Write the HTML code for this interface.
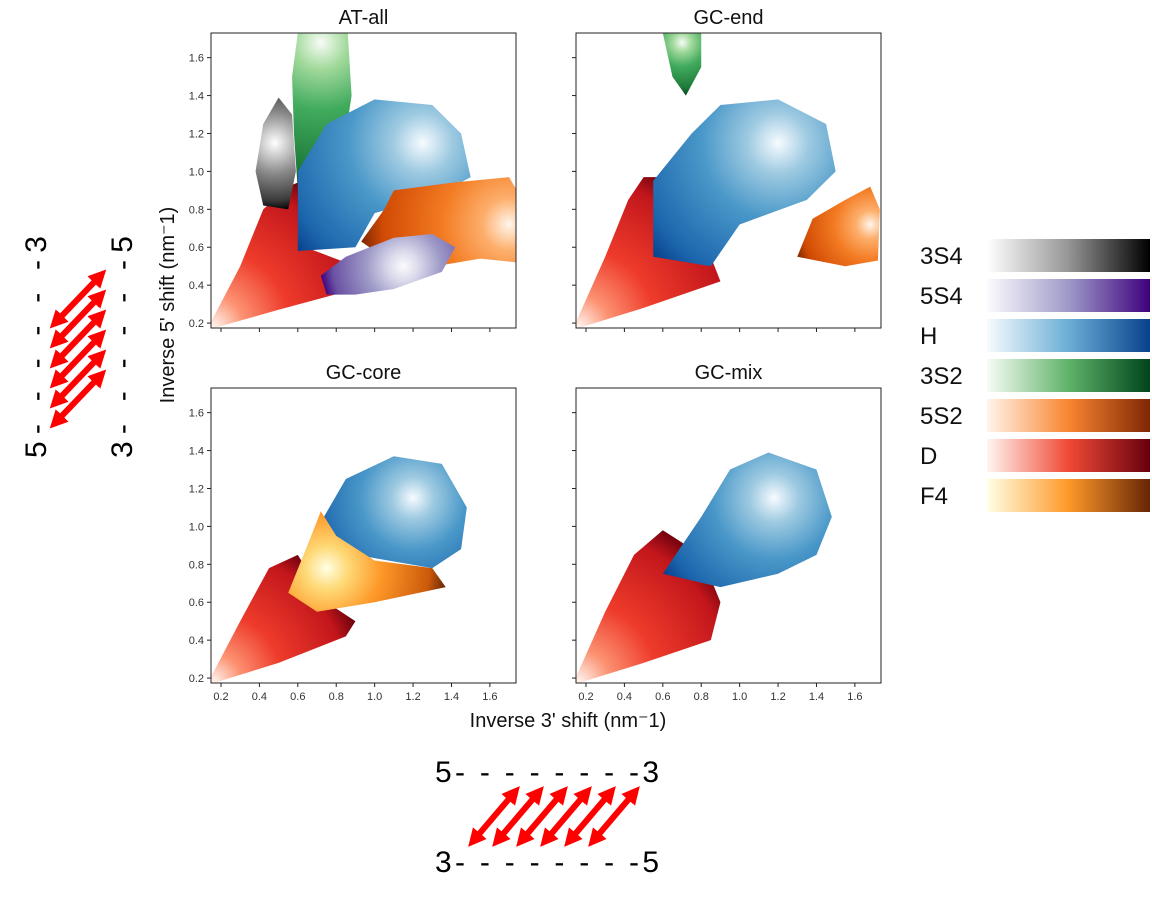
<!DOCTYPE html>
<html><head><meta charset="utf-8"><style>
body{margin:0;background:#fff;width:1152px;height:907px;overflow:hidden;font-family:"Liberation Sans",sans-serif}
svg{position:absolute;left:0;top:0}
</style></head><body>
<svg id="chart" width="1152" height="907"></svg>
<script>
const panelTitles=["AT-all","GC-end","GC-core","GC-mix"];
const xTicks=[0.2,0.4,0.6,0.8,1.0,1.2,1.4,1.6];
const yTicks=[0.2,0.4,0.6,0.8,1.0,1.2,1.4,1.6];
const legendLabels=["3S4","5S4","H","3S2","5S2","D","F4"];
const cmaps={
 "3S4":["#ffffff","#d0d0d0","#8a8a8a","#3a3a3a","#000000"],
 "5S4":["#fcfbfd","#dadaeb","#9e9ac8","#6a51a3","#3f007d"],
 "H":["#f7fbff","#9ecae1","#4a98c9","#1c65ad","#08418c"],
 "3S2":["#f7fcf5","#a1d99b","#41ab5d","#1e7a3a","#00441b"],
 "5S2":["#fff5eb","#fdae6b","#f37b22","#d04a04","#7f2704"],
 "D":["#fff5f0","#fc9272","#ee3b2b","#c2161b","#67000d"],
 "F4":["#ffffe5","#fed976","#fe9929","#cc5a0a","#662506"]};
const legendMaps={
 "3S4":["#ffffff","#969696","#000000"],
 "5S4":["#fcfbfd","#9e9ac8","#3f007d"],
 "H":["#f7fbff","#6baed6","#08418c"],
 "3S2":["#f7fcf5","#5fb36a","#00441b"],
 "5S2":["#fff5eb","#f98530","#7f2704"],
 "D":["#fff5f0","#f04a36","#67000d"],
 "F4":["#ffffe5","#fe9929","#662506"]};
// clusters: [panel, state, peak, outline points]
const clusters=[
 [0,"D",[0.16,0.18],[[0.15,0.17],[0.15,0.21],[0.3,0.5],[0.42,0.8],[0.55,0.92],[0.62,0.95],[0.64,0.6],[0.9,0.5],[0.9,0.38],[0.5,0.27]]],
 [0,"3S4",[0.48,1.15],[[0.42,0.82],[0.38,1.0],[0.42,1.25],[0.5,1.39],[0.57,1.3],[0.59,1.0],[0.55,0.8]]],
 [0,"3S2",[0.72,1.68],[[0.6,1.73],[0.86,1.73],[0.88,1.4],[0.85,1.2],[0.75,1.0],[0.6,0.9],[0.58,1.2],[0.57,1.5]]],
 [0,"H",[1.25,1.15],[[0.6,0.58],[0.6,1.0],[0.75,1.25],[1.0,1.38],[1.3,1.35],[1.45,1.2],[1.5,0.97],[1.3,0.86],[1.0,0.78],[0.9,0.6]]],
 [0,"5S2",[1.7,0.72],[[0.93,0.63],[1.05,0.8],[1.1,0.9],[1.4,0.94],[1.7,0.97],[1.74,0.9],[1.74,0.52],[1.55,0.54],[1.2,0.48],[1.0,0.58]]],
 [0,"5S4",[1.15,0.5],[[0.75,0.35],[0.72,0.45],[0.85,0.55],[1.1,0.65],[1.3,0.67],[1.42,0.6],[1.35,0.47],[1.1,0.38],[0.9,0.35]]],
 [1,"D",[0.16,0.18],[[0.15,0.17],[0.15,0.21],[0.3,0.55],[0.42,0.85],[0.5,0.97],[0.62,0.97],[0.7,0.8],[0.85,0.55],[0.9,0.42],[0.5,0.28]]],
 [1,"3S2",[0.7,1.68],[[0.6,1.73],[0.8,1.73],[0.8,1.55],[0.72,1.4],[0.65,1.5]]],
 [1,"H",[1.2,1.15],[[0.55,0.55],[0.55,0.95],[0.75,1.2],[0.9,1.35],[1.2,1.38],[1.45,1.25],[1.5,1.0],[1.35,0.85],[1.0,0.72],[0.85,0.5]]],
 [1,"5S2",[1.68,0.72],[[1.3,0.55],[1.38,0.75],[1.55,0.85],[1.68,0.92],[1.73,0.8],[1.72,0.53],[1.55,0.5]]],
 [2,"D",[0.16,0.18],[[0.15,0.17],[0.15,0.21],[0.3,0.5],[0.45,0.78],[0.6,0.85],[0.75,0.6],[0.9,0.5],[0.85,0.42],[0.5,0.28]]],
 [2,"H",[1.2,1.15],[[0.65,0.9],[0.85,1.25],[1.1,1.37],[1.35,1.33],[1.48,1.1],[1.45,0.88],[1.3,0.78],[0.9,0.85]]],
 [2,"F4",[0.75,0.78],[[0.55,0.65],[0.65,0.9],[0.72,1.08],[0.8,0.95],[1.0,0.82],[1.3,0.78],[1.37,0.68],[1.0,0.6],[0.7,0.55]]],
 [3,"D",[0.16,0.18],[[0.15,0.17],[0.15,0.21],[0.3,0.55],[0.45,0.85],[0.6,0.98],[0.8,0.85],[0.9,0.6],[0.85,0.4],[0.5,0.28]]],
 [3,"H",[1.18,1.15],[[0.6,0.75],[0.8,1.05],[0.95,1.3],[1.15,1.39],[1.4,1.3],[1.48,1.05],[1.4,0.85],[1.2,0.75],[0.9,0.68]]]
];
const NS="http://www.w3.org/2000/svg";
const svg=document.getElementById("chart");
function mk(tag,attrs,parent){const e=document.createElementNS(NS,tag);for(const k in attrs)e.setAttribute(k,attrs[k]);(parent||svg).appendChild(e);return e;}
const panels=[[211,33],[576,33],[211,388],[576,388]];
const PW=305,PH=295,X0=0.148,X1=1.736,Y0=0.174,Y1=1.73;
const defs=mk("defs",{});
panels.forEach((p,i)=>{
 const cp=mk("clipPath",{id:"clip"+i},defs);
 mk("rect",{x:p[0],y:p[1],width:PW,height:PH},cp);
});
function sx(i,v){return panels[i][0]+(v-X0)/(X1-X0)*PW;}
function sy(i,v){return panels[i][1]+PH-(v-Y0)/(Y1-Y0)*PH;}
const offs=[0,0.18,0.45,0.85,1];
panels.forEach((p,i)=>{
 const g=mk("g",{"clip-path":"url(#clip"+i+")"});
 
 
 clusters.filter(c=>c[0]===i).forEach((c,k)=>{
  const cx=sx(i,c[2][0]),cy=sy(i,c[2][1]);
  const pts=c[3].map(q=>[sx(i,q[0]),sy(i,q[1])]);
  let r=0;pts.forEach(q=>{r=Math.max(r,Math.hypot(q[0]-cx,q[1]-cy));});
  const id="g"+i+"_"+k;
  const rg=mk("radialGradient",{id:id,gradientUnits:"userSpaceOnUse",cx:cx,cy:cy,r:r},defs);
  const cm=cmaps[c[1]];
  cm.forEach((col,j)=>mk("stop",{offset:offs[j],"stop-color":col},rg));
  const poly=mk("polygon",{points:pts.map(q=>q.join(",")).join(" "),fill:"url(#"+id+")"},g);
  
  
 });
 const fr=mk("rect",{x:p[0],y:p[1],width:PW,height:PH,fill:"none",stroke:"#222","stroke-width":1});
 
 
 const t=mk("text",{x:p[0]+PW/2,y:p[1]-9,"text-anchor":"middle","font-size":20,fill:"#111"});
 t.textContent=panelTitles[i];
 
 
 xTicks.forEach(v=>{
  const x=sx(i,v);
  mk("line",{x1:x,x2:x,y1:p[1]+PH,y2:p[1]+PH+4,stroke:"#222"});
  if(i>=2){const tl=mk("text",{x:x,y:p[1]+PH+17,"text-anchor":"middle","font-size":11,fill:"#333"});tl.textContent=v.toFixed(1);
   }
 });
 yTicks.forEach(v=>{
  const y=sy(i,v);
  mk("line",{x1:p[0]-4,x2:p[0],y1:y,y2:y,stroke:"#222"});
  if(i%2===0){const tl=mk("text",{x:p[0]-7,y:y+4,"text-anchor":"end","font-size":11,fill:"#333"});tl.textContent=v.toFixed(1);
   }
 });
});
const xt=mk("text",{x:568,y:727,"text-anchor":"middle","font-size":20,fill:"#111"});
xt.textContent="Inverse 3' shift (nm\u207B1)";

const yt=mk("text",{x:0,y:0,"text-anchor":"middle","font-size":20,fill:"#111",transform:"translate(174,305) rotate(-90)"});
yt.textContent="Inverse 5' shift (nm\u207B1)";

legendLabels.forEach((l,i)=>{
 const y=255+i*40;
 const lt=mk("text",{x:920,y:y+9,"font-size":24,fill:"#111"});lt.textContent=l;
 
 const lg=mk("linearGradient",{id:"lg"+i},defs);
 const cm=legendMaps[l];
 mk("stop",{offset:"0","stop-color":cm[0]},lg);mk("stop",{offset:"0.5","stop-color":cm[1]},lg);mk("stop",{offset:"1","stop-color":cm[2]},lg);
 const b=mk("rect",{x:987,y:y-16,width:163,height:33,fill:"url(#lg"+i+")"});
 
});
const ah=mk("marker",{id:"ah",markerWidth:3,markerHeight:3,refX:1.5,refY:1.5,orient:"auto-start-reverse",markerUnits:"strokeWidth"},defs);
mk("path",{d:"M0,0 L3,1.5 L0,3 z",fill:"#ff0000"},ah);
function arrow(x1,y1,x2,y2){const a=mk("line",{x1:x1,y1:y1,x2:x2,y2:y2,stroke:"#ff0000","stroke-width":6,"marker-start":"url(#ah)","marker-end":"url(#ah)"});
 }
const l1=mk("text",{x:0,y:0,"font-size":30,fill:"#000",textLength:222,lengthAdjust:"spacing",transform:"translate(46,458) rotate(-90)"});l1.textContent="5- - - - - -3";

const l2=mk("text",{x:0,y:0,"font-size":30,fill:"#000",textLength:222,lengthAdjust:"spacing",transform:"translate(132,458) rotate(-90)"});l2.textContent="3- - - - - -5";

for(let k=0;k<6;k++){arrow(56,322+k*20,100,276+k*20);}
const b1=mk("text",{x:435,y:782,"font-size":30,fill:"#000",textLength:224,lengthAdjust:"spacing"});b1.textContent="5- - - - - - - -3";

const b2=mk("text",{x:435,y:872,"font-size":30,fill:"#000",textLength:224,lengthAdjust:"spacing"});b2.textContent="3- - - - - - - -5";

for(let k=0;k<6;k++){arrow(474+k*24,840,514+k*24,793);}
</script>
</body></html>
